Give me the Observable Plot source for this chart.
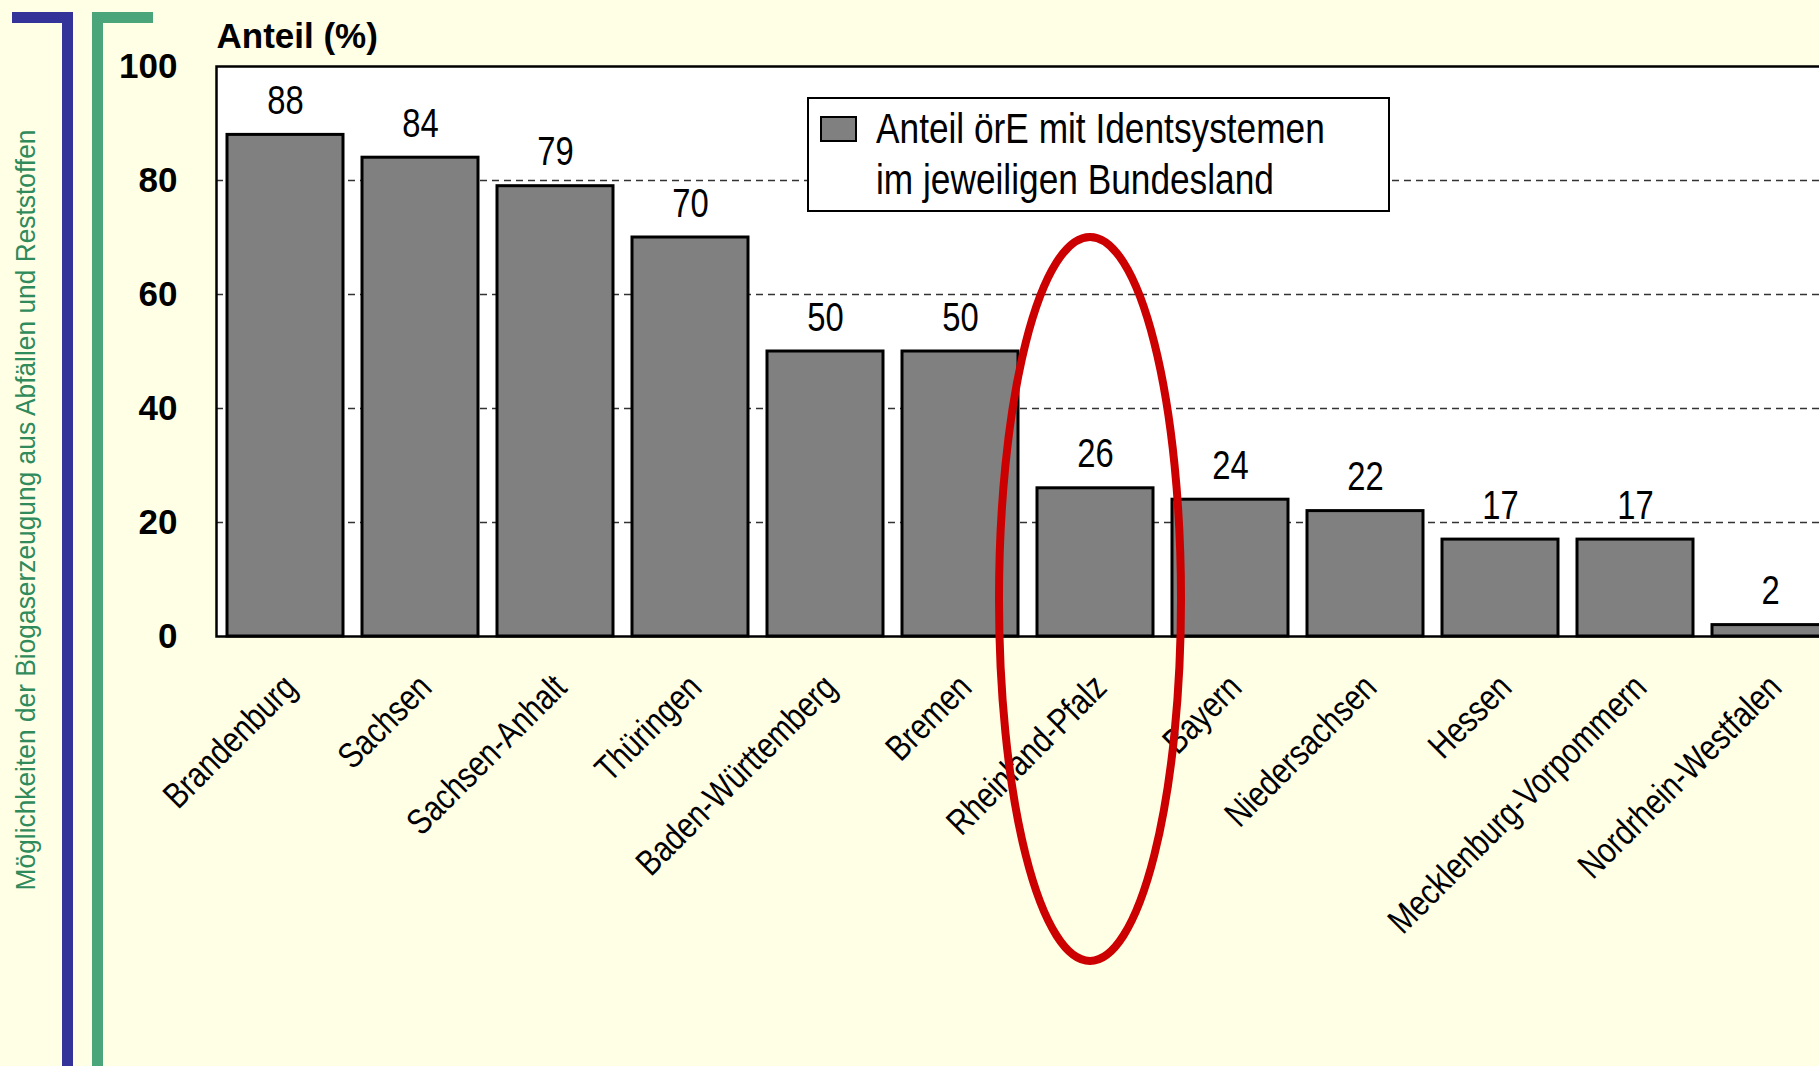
<!DOCTYPE html>
<html><head><meta charset="utf-8">
<script src="https://cdn.jsdelivr.net/npm/d3@7"></script>
<script src="https://cdn.jsdelivr.net/npm/@observablehq/plot@0.6"></script>
<style>
html,body{margin:0;padding:0;width:1819px;height:1066px;overflow:hidden;background:#ffffe6;}
#wrap{position:relative;width:1819px;height:1066px;overflow:hidden;}
#wrap svg{position:absolute;left:0;top:0;max-width:none;}
.sans{font-family:"Liberation Sans",Arial,sans-serif;}
.bar-blue{position:absolute;background:#333399;}
.bar-green{position:absolute;background:#4aa57a;}
#side{position:absolute;left:0;top:0;white-space:nowrap;color:#2f8a5c;font-size:28px;line-height:1;transform-origin:0 0;}
#legend{position:absolute;left:807px;top:97px;width:579px;height:111px;border:2.5px solid #000;background:#fff;}
#legend .sw{position:absolute;left:11px;top:17px;width:33px;height:22px;border:2.5px solid #000;background:#808080;}
#legend .txt{position:absolute;left:67px;top:4px;font-size:43px;line-height:51px;color:#000;white-space:nowrap;transform:scaleX(0.82);transform-origin:0 0;}
</style></head>
<body><div id="wrap"></div>
<script>
const laender = ["Brandenburg","Sachsen","Sachsen-Anhalt","Thüringen","Baden-Württemberg","Bremen","Rheinland-Pfalz","Bayern","Niedersachsen","Hessen","Mecklenburg-Vorpommern","Nordrhein-Westfalen"];
const anteil = [88,84,79,70,50,50,26,24,22,17,17,2];
const yTicks = [0,20,40,60,80,100];
const gridTicks = [20,40,60,80];
const titleText = "Anteil (%)";
const legendLines = ["Anteil örE mit Identsystemen","im jeweiligen Bundesland"];
const sideLabel = "Möglichkeiten der Biogaserzeugung aus Abfällen und Reststoffen";
const highlighted = "Rheinland-Pfalz";

const sans = '"Liberation Sans",Arial,sans-serif';
const NARROW = 0.82;
const data = laender.map((land, i) => ({land, wert: anteil[i]}));

const chart = Plot.plot({
  width: 1860, height: 1066,
  marginLeft: 216, marginTop: 66, marginBottom: 430, marginRight: 21,
  style: {background: "transparent", fontFamily: sans, overflow: "visible", maxWidth: "none"},
  x: {domain: laender, paddingInner: 0.142, paddingOuter: 0.074, axis: null},
  y: {domain: [0, 100], axis: null},
  marks: [
    Plot.frame({fill: "white", stroke: null}),
    Plot.gridY(gridTicks, {stroke: "#333", strokeOpacity: 1, strokeWidth: 1.3, strokeDasharray: "7,5"}),
    Plot.barY(data, {x: "land", y: "wert", fill: "#808080", stroke: "black", strokeWidth: 3}),
    Plot.text(data, {x: "land", y: "wert", text: d => String(d.wert), lineAnchor: "bottom", dy: -21, fontSize: 40, fill: "black"}),
    Plot.axisY(yTicks, {tickSize: 0, tickPadding: 39, fontSize: 35, fontWeight: "bold", fill: "black", label: null}),
    Plot.axisX({tickSize: 0, tickRotate: -45, tickPadding: 45, dx: 5, fontSize: 36, fill: "black", label: null}),
    Plot.frame({stroke: "black", strokeWidth: 2.5}),
    Plot.text([titleText], {text: d => d, frameAnchor: "top-left", textAnchor: "start", lineAnchor: "bottom", dy: -19, fontSize: 35, fontWeight: "bold", fill: "black"})
  ]
});

// condense the narrow-font labels (Arial Narrow look): x tick labels and value labels
const valueStrings = new Set(anteil.map(String));
chart.querySelectorAll("text").forEach(t => {
  const g = t.closest("g[aria-label]");
  const role = g ? g.getAttribute("aria-label") : "";
  const isX = role === "x-axis tick label";
  const isVal = role === "text" && valueStrings.has(t.textContent.trim());
  if (!isX && !isVal) return;
  let tr = t.getAttribute("transform") || "";
  const x = t.getAttribute("x"), y = t.getAttribute("y");
  if (x != null && !/em$/.test(x)) {
    const yy = (y != null && !/em$/.test(y)) ? y : 0;
    tr = `translate(${x},${yy}) ` + tr;
    t.removeAttribute("x");
    if (yy !== 0) t.removeAttribute("y");
  }
  t.setAttribute("transform", (tr + ` scale(${NARROW},1)`).trim());
});

const sx = chart.scale("x"), sy = chart.scale("y");
const cx = sx.apply(highlighted) + sx.bandwidth / 2 - 5;
const yTop = sy.apply(70), yBot = sy.apply(-57);
d3.select(chart).append("ellipse")
  .attr("cx", cx).attr("cy", (yTop + yBot) / 2)
  .attr("rx", 91).attr("ry", (yBot - yTop) / 2)
  .attr("fill", "none").attr("stroke", "#cc0000").attr("stroke-width", 8);

const wrap = document.getElementById("wrap");
wrap.appendChild(chart);

function box(cls, l, t, w, h) {
  const d = document.createElement("div");
  d.className = cls;
  Object.assign(d.style, {left: l + "px", top: t + "px", width: w + "px", height: h + "px"});
  wrap.appendChild(d);
}
box("bar-blue", 12, 12, 61, 11);
box("bar-blue", 62, 12, 11, 1060);
box("bar-green", 92, 12, 61, 11);
box("bar-green", 92, 12, 11, 1060);

const side = document.createElement("div");
side.id = "side"; side.className = "sans"; side.textContent = sideLabel;
wrap.appendChild(side);
{
  const w = side.offsetWidth, h = side.offsetHeight;
  const s = 761 / w;
  side.style.left = (26 - w / 2) + "px";
  side.style.top = (510 - h / 2) + "px";
  side.style.transformOrigin = "50% 50%";
  side.style.transform = `rotate(-90deg) scaleX(${s})`;
}

const legend = document.createElement("div");
legend.id = "legend"; legend.className = "sans";
legend.innerHTML = '<div class="sw"></div><div class="txt"></div>';
legend.querySelector(".txt").innerHTML = legendLines.map(s => s.replace(/&/g, "&amp;").replace(/</g, "&lt;")).join("<br>");
wrap.appendChild(legend);
</script>
</body></html>
